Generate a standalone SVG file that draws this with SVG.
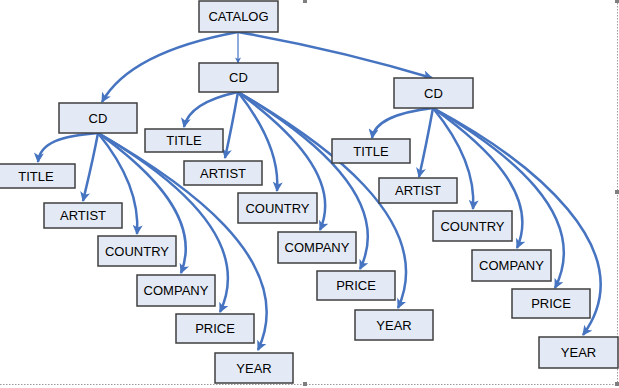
<svg xmlns="http://www.w3.org/2000/svg" width="619" height="388" viewBox="0 0 619 388">
<style>
.box{fill:#E4EAF5;stroke:#3f3f3f;stroke-width:1.5}
.lbl{font-family:"Liberation Sans",Arial,sans-serif;font-size:13px;fill:#000;text-anchor:middle;dominant-baseline:central}
.c{fill:none;stroke:#4674C1;stroke-width:2.5;marker-end:url(#ah)}
.thin{fill:none;stroke:#4674C1;stroke-width:1.2;marker-end:url(#ahs)}
.frame{fill:none;stroke:#9a9a9a;stroke-width:1;stroke-dasharray:1.5,1.5}
.hd{fill:#7f7f7f}
</style>
<defs>
<marker id="ah" viewBox="0 0 10 10" refX="9" refY="5" markerWidth="11" markerHeight="10" markerUnits="userSpaceOnUse" orient="auto">
<path d="M0,0 L10,5 L0,10 L2.5,5 z" fill="#4674C1"/>
</marker>
<marker id="ahs" viewBox="0 0 10 10" refX="9" refY="5" markerWidth="7" markerHeight="6" markerUnits="userSpaceOnUse" orient="auto">
<path d="M0,0 L10,5 L0,10 L2.5,5 z" fill="#4674C1"/>
</marker>
</defs>
<rect width="619" height="388" fill="#fff"/>
<g id="frame">
<line class="frame" x1="617.5" y1="0" x2="617.5" y2="384"/>
<line class="frame" x1="0" y1="384.5" x2="617" y2="384.5"/>
<rect class="hd" x="303" y="0" width="4" height="3"/>
<rect class="hd" x="615" y="0" width="4" height="3"/>
<rect class="hd" x="615" y="190" width="4" height="4"/>
<rect class="hd" x="303" y="382" width="4" height="4"/>
<rect class="hd" x="615" y="382" width="4" height="4"/>
</g>
<g id="connectors">
<path class="thin" d="M238,32 L238,63"/>
<path class="c" d="M238,32 Q130,52 102,102"/>
<path class="c" d="M238,32 Q340,50 432,78"/>
<path class="c" d="M98,133 C62,136 40,142 38,162"/>
<path class="c" d="M98,133 C93,160 88,180 83,201"/>
<path class="c" d="M98,133 C120,160 140,195 137,234"/>
<path class="c" d="M98,133 C150,170 202,220 181,273"/>
<path class="c" d="M98,133 C170,175 254,240 220,312"/>
<path class="c" d="M98,133 C180,180 300,260 258,350"/>
<path class="c" d="M238,92 C210,98 188,108 184,127"/>
<path class="c" d="M238,92 C234,115 230,135 225,158"/>
<path class="c" d="M238,92 C260,120 280,155 277,191"/>
<path class="c" d="M238,92 C290,130 342,180 320,230"/>
<path class="c" d="M238,92 C310,135 394,200 360,269"/>
<path class="c" d="M238,92 C320,140 438,220 398,308"/>
<path class="c" d="M433,108 C400,112 375,120 372,138"/>
<path class="c" d="M433,108 C429,130 424,155 419,177"/>
<path class="c" d="M433,108 C455,135 476,170 473,209"/>
<path class="c" d="M433,108 C485,145 540,195 517,248"/>
<path class="c" d="M433,108 C505,150 592,215 555,288"/>
<path class="c" d="M433,108 C530,160 645,250 583,335"/>
</g>
<g id="catalog"><rect class="box" x="199" y="1" width="79" height="31"/><text class="lbl" x="238.5" y="16.5">CATALOG</text></g>
<g id="cd1"><rect class="box" x="59" y="103" width="78" height="30"/><text class="lbl" x="98" y="118">CD</text></g>
<g id="title1"><rect class="box" x="-1" y="164" width="76" height="24"/><text class="lbl" x="36" y="176">TITLE</text></g>
<g id="artist1"><rect class="box" x="44" y="203" width="78" height="25"/><text class="lbl" x="83" y="215.5">ARTIST</text></g>
<g id="country1"><rect class="box" x="98" y="236" width="78" height="30"/><text class="lbl" x="137" y="251">COUNTRY</text></g>
<g id="company1"><rect class="box" x="137" y="275" width="78" height="31"/><text class="lbl" x="176" y="290.5">COMPANY</text></g>
<g id="price1"><rect class="box" x="176" y="314" width="78" height="29"/><text class="lbl" x="215" y="328.5">PRICE</text></g>
<g id="year1"><rect class="box" x="215" y="353" width="78" height="30"/><text class="lbl" x="254" y="368">YEAR</text></g>
<g id="cd2"><rect class="box" x="199" y="63" width="79" height="29"/><text class="lbl" x="238.5" y="77.5">CD</text></g>
<g id="title2"><rect class="box" x="145" y="129" width="78" height="23"/><text class="lbl" x="184" y="140.5">TITLE</text></g>
<g id="artist2"><rect class="box" x="184" y="161" width="78" height="24"/><text class="lbl" x="223" y="173">ARTIST</text></g>
<g id="country2"><rect class="box" x="238" y="193" width="79" height="30"/><text class="lbl" x="277.5" y="208">COUNTRY</text></g>
<g id="company2"><rect class="box" x="278" y="232" width="78" height="31"/><text class="lbl" x="317" y="247.5">COMPANY</text></g>
<g id="price2"><rect class="box" x="317" y="271" width="78" height="29"/><text class="lbl" x="356" y="285.5">PRICE</text></g>
<g id="year2"><rect class="box" x="355" y="310" width="78" height="30"/><text class="lbl" x="394" y="325">YEAR</text></g>
<g id="cd3"><rect class="box" x="394" y="78" width="79" height="30"/><text class="lbl" x="433.5" y="93">CD</text></g>
<g id="title3"><rect class="box" x="332" y="139" width="78" height="24"/><text class="lbl" x="371" y="151">TITLE</text></g>
<g id="artist3"><rect class="box" x="379" y="178" width="78" height="25"/><text class="lbl" x="418" y="190.5">ARTIST</text></g>
<g id="country3"><rect class="box" x="433" y="211" width="79" height="30"/><text class="lbl" x="472.5" y="226">COUNTRY</text></g>
<g id="company3"><rect class="box" x="472" y="250" width="79" height="31"/><text class="lbl" x="511.5" y="265.5">COMPANY</text></g>
<g id="price3"><rect class="box" x="512" y="289" width="78" height="29"/><text class="lbl" x="551" y="303.5">PRICE</text></g>
<g id="year3"><rect class="box" x="539" y="337" width="79" height="31"/><text class="lbl" x="578.5" y="352.5">YEAR</text></g>
</svg>
